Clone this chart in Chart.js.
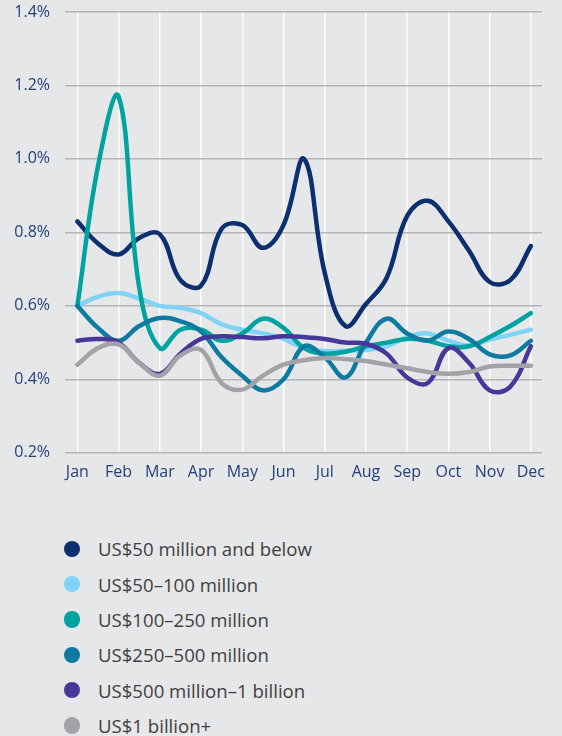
<!DOCTYPE html>
<html>
<head>
<meta charset="utf-8">
<script src="https://cdn.jsdelivr.net/npm/chart.js@4.4.0/dist/chart.umd.min.js"></script>
<style>
    html, body { margin: 0; padding: 0; background: #e6e7e9; }
    #wrap { width: 562px; height: 500px; }
    #legend {
        list-style: none;
        margin: 0;
        padding: 31px 0 0 64px;
        font-family: 'Open Sans', sans-serif;
        font-size: 18.6px;
        color: #404040;
    }
    #legend li { display: flex; align-items: center; height: 35.4px; white-space: nowrap; }
    #legend .dot { width: 16.4px; height: 16.4px; border-radius: 50%; margin-right: 17.6px; flex: none; }
</style>
</head>
<body>
<div id="wrap"><canvas id="myChart" width="562" height="500"></canvas></div>
<ul id="legend"></ul>
<script>
// month ticks, and the half-month positions the values were read at
const months = ['Jan', 'Feb', 'Mar', 'Apr', 'May', 'Jun', 'Jul', 'Aug', 'Sep', 'Oct', 'Nov', 'Dec'];
const xPos = [0, 0.5, 1, 1.5, 2, 2.5, 3, 3.5, 4, 4.5, 5, 5.5, 6, 6.5, 7, 7.5, 8, 8.5, 9, 9.5, 10, 10.5, 11];
const yTicks = [0.2, 0.4, 0.6, 0.8, 1.0, 1.2, 1.4];

const seriesNames = [
    'US$50 million and below',
    'US$50\u2013100 million',
    'US$100\u2013250 million',
    'US$250\u2013500 million',
    'US$500 million\u20131 billion',
    'US$1 billion+'
];
const seriesColors = ['#0b2f6f', '#7fd3f7', '#00a3a0', '#0f7aa0', '#483698', '#a2a3a7'];

const under50m = [0.83, 0.77, 0.74, 0.785, 0.795, 0.67, 0.655, 0.81, 0.82, 0.758, 0.82, 1.0, 0.69, 0.545, 0.605, 0.676, 0.845, 0.886, 0.83, 0.75, 0.665, 0.67, 0.763];
const m50to100 = [0.60, 0.625, 0.635, 0.62, 0.60, 0.595, 0.58, 0.55, 0.535, 0.525, 0.51, 0.485, 0.477, 0.478, 0.48, 0.49, 0.515, 0.525, 0.505, 0.492, 0.508, 0.521, 0.535];
const m100to250 = [0.60, 0.98, 1.17, 0.65, 0.485, 0.535, 0.535, 0.505, 0.525, 0.565, 0.54, 0.485, 0.47, 0.475, 0.49, 0.50, 0.51, 0.505, 0.49, 0.49, 0.515, 0.545, 0.58];
const m250to500 = [0.60, 0.54, 0.505, 0.545, 0.567, 0.558, 0.53, 0.46, 0.41, 0.37, 0.40, 0.49, 0.46, 0.405, 0.50, 0.565, 0.525, 0.506, 0.53, 0.51, 0.468, 0.465, 0.505];
const m500to1b = [0.505, 0.51, 0.50, 0.445, 0.415, 0.47, 0.51, 0.517, 0.515, 0.512, 0.517, 0.515, 0.51, 0.50, 0.497, 0.47, 0.405, 0.39, 0.485, 0.445, 0.37, 0.38, 0.49];
const b1plus = [0.44, 0.485, 0.495, 0.445, 0.41, 0.465, 0.48, 0.39, 0.372, 0.41, 0.44, 0.452, 0.458, 0.455, 0.45, 0.44, 0.43, 0.42, 0.415, 0.42, 0.435, 0.437, 0.437];

const seriesValues = [under50m, m50to100, m100to250, m250to500, m500to1b, b1plus];

const tickColor = '#233f7a';
const tickFont = { family: "'Open Sans', sans-serif", size: 16 };

let datasets = seriesNames.map((name, i) => ({
    label: name,
    data: seriesValues[i].map((v, j) => ({ x: xPos[j], y: v })),
    borderColor: seriesColors[i],
    backgroundColor: seriesColors[i],
    borderWidth: 4.5,
    borderCapStyle: 'round',
    borderJoinStyle: 'round',
    pointRadius: 0,
    tension: 0.4,
    fill: false,
    order: seriesNames.length - i
}));

let chart = new Chart(document.getElementById('myChart'), {
    type: 'line',
    data: { datasets: datasets },
    options: {
        responsive: false,
        animation: false,
        layout: { padding: { top: 12, right: 20, bottom: 8, left: 0 } },
        plugins: {
            legend: { display: false },
            tooltip: { enabled: false }
        },
        scales: {
            x: {
                type: 'linear',
                min: -0.3,
                max: 11.27,
                afterBuildTicks: scale => { scale.ticks = months.map((m, i) => ({ value: i })); },
                ticks: {
                    callback: v => months[v],
                    color: tickColor,
                    font: tickFont,
                    padding: 10,
                    autoSkip: false,
                    maxRotation: 0
                },
                grid: { color: '#ffffff', lineWidth: 1.5, drawTicks: false },
                border: { display: false }
            },
            y: {
                min: 0.2,
                max: 1.4,
                afterBuildTicks: scale => { scale.ticks = yTicks.map(v => ({ value: v })); },
                afterFit: scale => {
                    scale.width = 65;
                    scale.paddingTop = 0;
                    scale.paddingBottom = 0;
                },
                ticks: {
                    callback: v => v.toFixed(1) + '%',
                    color: tickColor,
                    font: tickFont,
                    padding: 15
                },
                grid: { color: '#b5b5b7', lineWidth: 1.5, drawTicks: false },
                border: { display: false }
            }
        }
    }
});

// html legend, one row per series
let legend = document.getElementById('legend');
chart.data.datasets.forEach(ds => {
    let li = document.createElement('li');
    let dot = document.createElement('span');
    dot.className = 'dot';
    dot.style.background = ds.borderColor;
    li.appendChild(dot);
    li.appendChild(document.createTextNode(ds.label));
    legend.appendChild(li);
});
</script>
</body>
</html>
